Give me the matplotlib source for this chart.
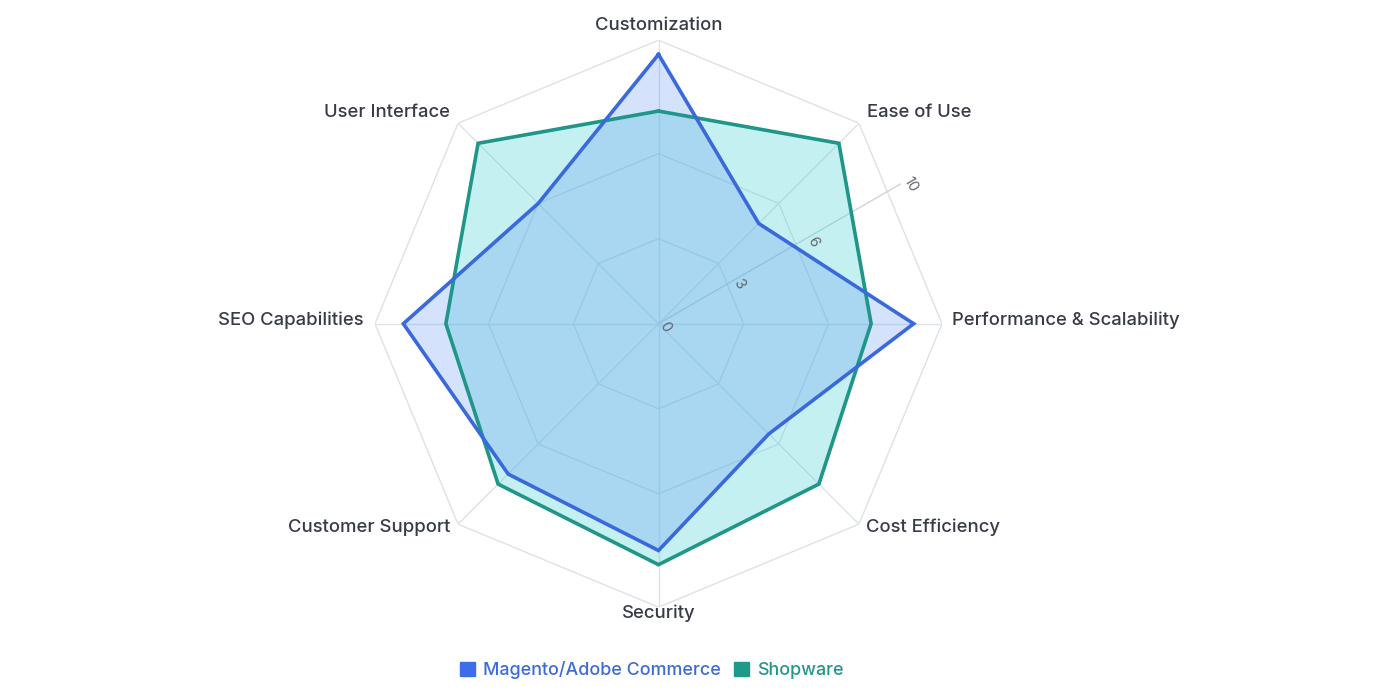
import numpy as np
import matplotlib
matplotlib.use("Agg")
import matplotlib.pyplot as plt
from matplotlib.patches import Patch

# ---- data ----
categories = ["Customization", "Ease of Use", "Performance & Scalability", "Cost Efficiency",
              "Security", "Customer Support", "SEO Capabilities", "User Interface"]
series_names = ["Magento/Adobe Commerce", "Shopware"]
magento = [9.5, 5, 9, 5.5, 8, 7.5, 9, 6]
shopware = [7.5, 9, 7.5, 8, 8.5, 8, 7.5, 9]
radial_ticks = [0, 3, 6, 10]
r_max = 10

# ---- style ----
plt.rcParams['font.family'] = ['Inter', 'DejaVu Sans']
mag_line = '#3a69dc'
mag_fill = (87/255, 143/255, 243/255, 0.25)
sho_line = '#1f9688'
sho_fill = (65/255, 208/255, 215/255, 0.30)
grid_col = '#dce2e6'
label_col = '#363b46'
tick_col = '#60656c'

W, H = 1400, 700
cx, cy, R = 658.5, 323.7, 283.5
fig = plt.figure(figsize=(14, 7), dpi=100)
ax = fig.add_axes([(cx - R) / W, (H - cy - R) / H, 2 * R / W, 2 * R / H], projection='polar')
ax.set_theta_offset(np.pi / 2)
ax.set_theta_direction(-1)
ax.set_ylim(0, r_max)
ax.set_axis_off()

n = len(categories)
theta = np.linspace(0, 2 * np.pi, n, endpoint=False)
theta_c = np.append(theta, theta[0])

# grid polygons
for t in radial_ticks[1:]:
    ax.plot(theta_c, [t] * (n + 1), color=grid_col, lw=1, zorder=1)
# spokes
for a in theta:
    ax.plot([a, a], [0, r_max], color=grid_col, lw=1, zorder=1)
# radial axis line
rad_ang = np.deg2rad(60)
ax.plot([rad_ang, rad_ang], [0, r_max * 0.985], color='#cfd4d8', lw=1, zorder=1)
for t in radial_ticks:
    ax.annotate(str(t), xy=(rad_ang, t + 0.15), xytext=(3, -5), textcoords='offset pixels',
                rotation=-60, ha='center', va='center', fontsize=10.5, color=tick_col,
                rotation_mode='anchor', zorder=5, annotation_clip=False)

# data
for vals, lc, fc in [(shopware, sho_line, sho_fill), (magento, mag_line, mag_fill)]:
    v = np.append(vals, vals[0])
    ax.fill(theta_c, v, color=fc, zorder=2, lw=0)
    ax.plot(theta_c, v, color=lc, lw=2.6, zorder=3, solid_joinstyle='miter')

# category labels
offsets = [((0, 14.5), 'center'), ((8, 10.5), 'left'), ((10, 3.5), 'left'), ((7, -3.5), 'left'),
           ((0, -6.5), 'center'), ((-8, -3.5), 'right'), ((-11, 3.5), 'right'), ((-8, 10.5), 'right')]
for a, lab, (off, ha) in zip(theta, categories, offsets):
    ax.annotate(lab, xy=(a, r_max), xytext=off, textcoords='offset pixels',
                ha=ha, va='center', fontsize=13.3, fontweight=500, color=label_col,
                annotation_clip=False)

# legend
handles = [Patch(facecolor='#3b6ee8', edgecolor='#3b6ee8'), Patch(facecolor='#1f9a8a', edgecolor='#1f9a8a')]
fig.legend(handles, series_names, loc='center', bbox_to_anchor=(652 / W, 30 / H), ncol=2,
           frameon=False, prop={'size': 12.9, 'weight': 500}, labelcolor=['#3d6bd6', '#22978a'],
           handlelength=0.85, handleheight=0.85, handletextpad=0.45, columnspacing=0.7)

fig.savefig('out.png', dpi=100, facecolor='white')
